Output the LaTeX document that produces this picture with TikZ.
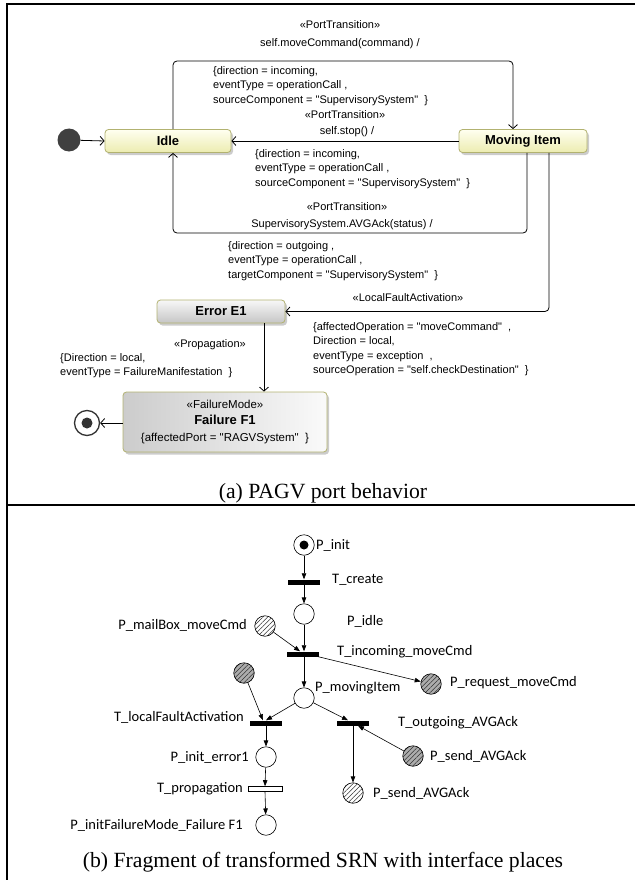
\documentclass[tikz,border=0pt]{standalone}
\usepackage{fontspec}
\setmainfont{Liberation Serif}
\newfontfamily\umlfont{Liberation Sans}
\newfontfamily\netfont{Carlito}
\usetikzlibrary{arrows.meta,patterns.meta,shadows}

\definecolor{stateborder}{RGB}{178,178,112}
\definecolor{idletop}{RGB}{255,255,240}
\definecolor{idlebot}{RGB}{236,236,176}

\tikzset{
  frameline/.style={line width=2.2pt},
  umltext/.style={font=\umlfont\fontsize{11}{14.5}\selectfont, inner sep=0pt},
  umlblock/.style={umltext, align=left, anchor=north west},
  statebox/.style={rounded corners=3.5pt, draw=stateborder, line width=0.8pt, inner sep=0pt,
    font=\umlfont\bfseries\fontsize{13}{15}\selectfont,
    drop shadow={shadow xshift=2pt, shadow yshift=-2.5pt, fill=black!40, opacity=0.5}},
  yellowstate/.style={statebox, top color=idletop, bottom color=idlebot},
  graystate/.style={statebox, top color=gray!6, bottom color=gray!45},
  failstate/.style={statebox, left color=gray!40, right color=gray!4},
  initstate/.style={circle, fill=black!75, minimum size=23pt, inner sep=0pt},
  finalstate/.style={circle, draw=black!80, line width=1.3pt, fill=white, minimum size=25pt, inner sep=0pt},
  umledge/.style={line width=0.8pt, rounded corners=4pt,
    -{Straight Barb[length=4pt,width=9pt,line width=0.8pt]}},
  caption/.style={font=\fontsize{21.7}{26}\selectfont, inner sep=0pt, anchor=base},
  netlabel/.style={font=\netfont\fontsize{14.5}{17}\selectfont, inner sep=0pt},
  place/.style={circle, draw, line width=0.6pt, minimum size=20.5pt, inner sep=0pt},
  lighthatch/.style={place, pattern={Lines[angle=45,distance=3.3pt,line width=0.5pt]}, pattern color=black!80},
  darkhatch/.style={lighthatch, preaction={fill=gray!65}},
  tbar/.style={rectangle, fill=black, minimum width=32pt, minimum height=5pt, inner sep=0pt},
  hollowbar/.style={rectangle, draw, line width=0.6pt, fill=white, minimum width=34pt, minimum height=5pt, inner sep=0pt},
  arc/.style={line width=0.6pt, -{Triangle[length=6pt,width=4.5pt]}}
}

\begin{document}
\begin{tikzpicture}[x=1pt,y=-1pt]
\useasboundingbox (0,0) rectangle (634,880);

% frame and separator
\draw[frameline] (7,882) -- (7,4.3) -- (640,4.3);
\draw[frameline] (6,505) -- (640,505);

% ---------------- (a) state machine ----------------
\node[initstate] (init) at (69,140) {};
\node[yellowstate, minimum width=126pt, minimum height=23pt] (idle) at (168,141) {Idle};
\node[yellowstate, minimum width=128pt, minimum height=23pt] (moving) at (523,141) {Moving Item};
\node[graystate, minimum width=128pt, minimum height=23pt] (error) at (221,311.5) {Error E1};
\node[failstate, minimum width=204pt, minimum height=60pt, align=center] (failure) at (225,422)
  {{\mdseries\fontsize{11.5}{13}\selectfont «FailureMode»}\\[1pt]
   Failure F1\\[2pt]
   {\mdseries\fontsize{11.5}{13}\selectfont \{affectedPort = "RAGVSystem"~~\}}};
\node[finalstate] (final) at (87,423) {};
\fill[black!80] (final.center) circle (5.5pt);

\coordinate (topcorner) at (513,61);
\coordinate (ackcorner) at (173,233);

\draw[umledge] (init) -- (idle.west);
\draw[umledge] ([xshift=5pt]idle.north) |- (topcorner) -- (topcorner |- moving.north);
\draw[umledge] (moving.west) -- (idle.east);
\draw[umledge] ([xshift=4pt]moving.south) |- (ackcorner) -- ([xshift=5pt]idle.south);
\draw[umledge] ([xshift=26pt]moving.south) |- (error.east);
\draw[umledge] ([xshift=43pt]error.south) -- ([xshift=43pt]error.south |- failure.north);
\draw[umledge] (failure.west |- final) -- (final);

% transition labels
\node[umltext, anchor=base] (l1a) at (340,29) {«PortTransition»};
\node[umltext, anchor=base] (l1b) at (340,47) {self.moveCommand(command) /};
\node[umlblock] (l1c) at (213,66) {\{direction = incoming,\\eventType = operationCall ,\\sourceComponent = "SupervisorySystem"~~\}};

\node[umltext, anchor=base] (l2a) at (345,119) {«PortTransition»};
\node[umltext, anchor=base] (l2b) at (347,135) {self.stop() /};
\node[umlblock] (l2c) at (255,149) {\{direction = incoming,\\eventType = operationCall ,\\sourceComponent = "SupervisorySystem"~~\}};

\node[umltext, anchor=base] (l3a) at (347,210) {«PortTransition»};
\node[umltext, anchor=base] (l3b) at (342,227) {SupervisorySystem.AVGAck(status) /};
\node[umlblock] (l3c) at (228,241) {\{direction = outgoing ,\\eventType = operationCall ,\\targetComponent = "SupervisorySystem"~~\}};

\node[umltext, anchor=base] (l4a) at (408,301.5) {«LocalFaultActivation»};
\node[umlblock] (l4c) at (313,322) {\{affectedOperation = "moveCommand"~~,\\Direction = local,\\eventType = exception~~,\\sourceOperation = "self.checkDestination"~~\}};

\node[umltext, anchor=base] (l5a) at (210,347) {«Propagation»};
\node[umlblock] (l5c) at (60,353) {\{Direction = local,\\eventType = FailureManifestation~~\}};

\node[caption] (capa) at (323,498) {(a) PAGV port behavior};

% ---------------- (b) SRN fragment ----------------
\node[place] (pinit) at (304,545) {};
\fill (pinit.center) circle (4.5pt);
\node[netlabel, anchor=west] (pinitl) at (316,545) {P\_init};
\node[tbar] (tcreate) at (304,582) {};
\node[netlabel, anchor=west] (tcreatel) at (332,580) {T\_create};
\node[place] (pidle) at (304,614) {};
\node[netlabel, anchor=west] (pidlel) at (347,621) {P\_idle};
\node[lighthatch] (pmail) at (265,626) {};
\node[netlabel, anchor=east] (pmaill) at (247,625) {P\_mailBox\_moveCmd};
\node[tbar] (tinc) at (303,654) {};
\node[netlabel, anchor=west] (tincl) at (337,652) {T\_incoming\_moveCmd};
\node[darkhatch] (preq) at (431,684) {};
\node[netlabel, anchor=west] (preql) at (450,683) {P\_request\_moveCmd};
\node[place] (pmov) at (304,698) {};
\node[netlabel, anchor=west] (pmovl) at (315,688) {P\_movingItem};
\node[darkhatch] (pfault) at (244,673) {};
\node[tbar] (tlfa) at (266,723) {};
\node[netlabel, anchor=east] (tlfal) at (244,717) {T\_localFaultActivation};
\node[tbar] (tout) at (353,723) {};
\node[netlabel, anchor=west] (toutl) at (398,723) {T\_outgoing\_AVGAck};
\node[place] (perr) at (266,757) {};
\node[netlabel, anchor=east] (perrl) at (249,757) {P\_init\_error1};
\node[hollowbar] (tprop) at (265,789) {};
\node[netlabel, anchor=east] (tpropl) at (243,789) {T\_propagation};
\node[place] (pfail) at (266,825) {};
\node[netlabel, anchor=east] (pfaill) at (243,825) {P\_initFailureMode\_Failure F1};
\node[darkhatch] (psendin) at (413,756) {};
\node[netlabel, anchor=west] (psendinl) at (430,756) {P\_send\_AVGAck};
\node[lighthatch] (psendout) at (353,793) {};
\node[netlabel, anchor=west] (psendoutl) at (373,793) {P\_send\_AVGAck};

\draw[arc] (pinit) -- (tcreate.north);
\draw[arc] (tcreate.south) -- (pidle);
\draw[arc] (pidle) -- ([xshift=1pt]tinc.north);
\draw[arc] (pmail) -- ([xshift=-3pt]tinc.north);
\draw[arc] ([xshift=1pt]tinc.south) -- (pmov);
\draw[arc] ([xshift=-1pt]tinc.south east) -- (preq);
\draw[arc] (pmov) -- (tlfa.north);
\draw[arc] (pfault) -- ([xshift=-3pt]tlfa.north);
\draw[arc] (pmov) -- ([xshift=-5pt]tout.north);
\draw[arc] (psendin) -- ([xshift=5pt]tout.south);
\draw[arc] (tout.south) -- (psendout);
\draw[arc] (tlfa.south) -- (perr);
\draw[arc] (perr) -- (tprop.north);
\draw[arc] (tprop.south) -- (pfail);

\node[caption] (capb) at (323,867) {(b) Fragment of transformed SRN with interface places};
\end{tikzpicture}
\end{document}
